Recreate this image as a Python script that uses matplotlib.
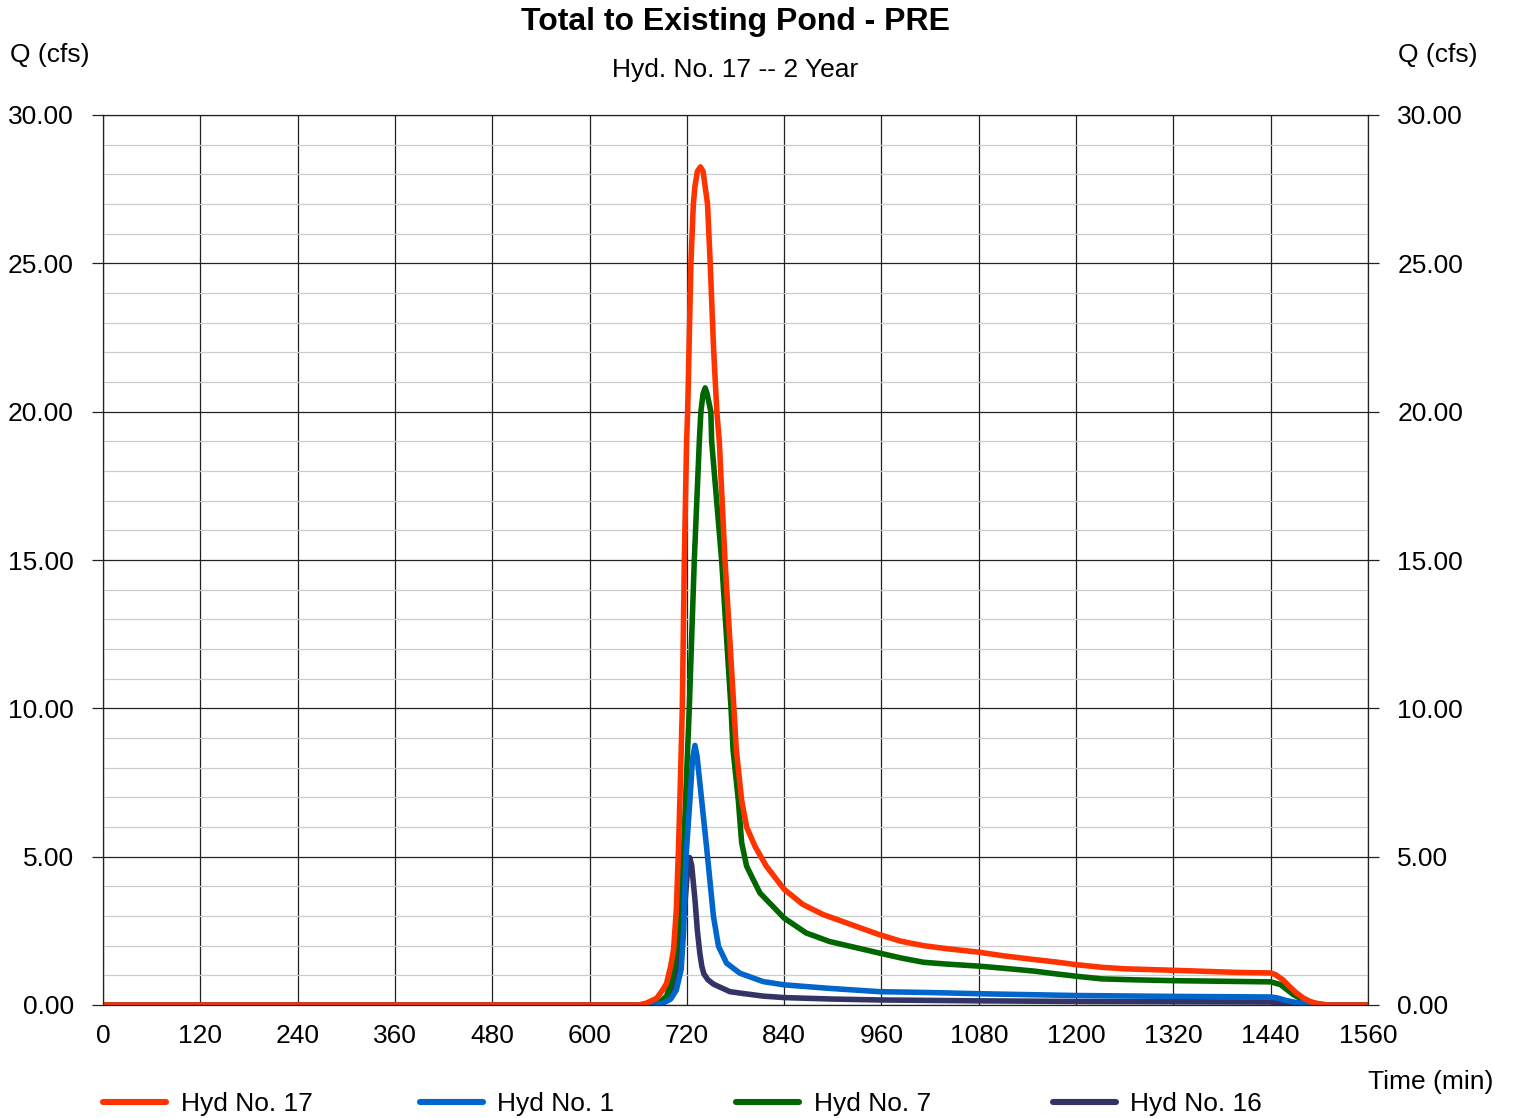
import numpy as np
import matplotlib
matplotlib.use('Agg')
import matplotlib.pyplot as plt
from matplotlib.ticker import MultipleLocator, FormatStrFormatter

plt.rcParams['font.family'] = ['Liberation Sans', 'DejaVu Sans']

# Hyd No. 17 (total)
t17 = [0, 660, 670, 683, 690, 695, 700, 703.6, 707, 709.7, 712, 714.4, 716.9, 719.7, 721, 723,
       725, 728, 730, 733, 736.7, 740, 743, 745.5, 748.8, 753, 757, 760, 767, 773, 778, 781,
       787.6, 793.7, 804, 818, 840, 863, 888, 916.6, 957.5, 984, 1012, 1040, 1080, 1110, 1149,
       1175, 1200, 1232, 1260, 1320, 1397, 1440, 1446, 1455, 1463, 1472, 1480, 1490, 1500,
       1510, 1560]
q17 = [0, 0, 0.06, 0.23, 0.5, 0.73, 1.3, 1.86, 3.2, 5.25, 7.5, 10.0, 15.0, 19.0, 20.0, 22.5,
       25.0, 27.0, 27.6, 28.1, 28.25, 28.1, 27.5, 27.0, 25.0, 22.1, 20.0, 19.0, 15.0, 12.3,
       10.0, 8.6, 6.9, 6.0, 5.35, 4.68, 3.9, 3.39, 3.05, 2.77, 2.37, 2.15, 2.0, 1.9, 1.78,
       1.66, 1.53, 1.45, 1.36, 1.27, 1.22, 1.17, 1.10, 1.08, 1.02, 0.85, 0.63, 0.4, 0.24, 0.1,
       0.03, 0, 0]

# Hyd No. 1
t1 = [0, 660, 690, 700, 707, 713, 716, 719, 724, 727, 730, 732.5, 736, 744.6, 752.8, 759,
      769, 785.5, 814, 840, 896, 957.5, 1020, 1080, 1140, 1200, 1320, 1440, 1448, 1458,
      1470, 1485, 1500, 1560]
q1 = [0, 0, 0.05, 0.2, 0.5, 1.2, 2.5, 5.0, 7.0, 8.3, 8.75, 8.4, 7.5, 5.25, 2.99, 1.98,
      1.41, 1.07, 0.79, 0.68, 0.56, 0.45, 0.42, 0.38, 0.35, 0.32, 0.29, 0.27, 0.24, 0.16,
      0.09, 0.04, 0, 0]

# Hyd No. 7
t7 = [0, 665, 685, 695, 700, 705, 710, 716, 723, 729.2, 735.4, 737.3, 740, 742.6, 745,
      749.6, 750.6, 762.9, 774.5, 777, 783.5, 787.6, 793.7, 810, 840, 867, 896, 957.5, 985,
      1012, 1040, 1080, 1110, 1149, 1175, 1200, 1232, 1270, 1320, 1380, 1440, 1452, 1460,
      1468, 1480, 1496, 1510, 1560]
q7 = [0, 0, 0.05, 0.3, 0.7, 1.4, 2.8, 5.25, 10.0, 15.0, 19.0, 20.0, 20.6, 20.8, 20.6,
      20.0, 19.0, 15.0, 10.0, 8.6, 6.9, 5.47, 4.68, 3.78, 2.93, 2.43, 2.14, 1.75, 1.58,
      1.44, 1.38, 1.31, 1.24, 1.14, 1.05, 0.97, 0.88, 0.85, 0.82, 0.80, 0.78, 0.69, 0.52,
      0.35, 0.17, 0.05, 0, 0]

# Hyd No. 16
t16 = [0, 662, 687, 699.4, 705.6, 711.8, 718, 721, 723.5, 726, 730, 733, 736, 738.5, 741,
       746, 753, 773, 786, 814, 840, 900, 957.5, 1080, 1200, 1440, 1450, 1458, 1470, 1560]
q16 = [0, 0, 0.08, 0.28, 0.73, 1.86, 3.55, 4.6, 4.97, 4.7, 3.55, 2.5, 1.75, 1.3, 1.05,
       0.85, 0.7, 0.45, 0.40, 0.30, 0.25, 0.2, 0.17, 0.14, 0.12, 0.10, 0.06, 0.02, 0, 0]

W, H = 1514, 1118
fig = plt.figure(figsize=(W / 100, H / 100), dpi=100)
ax = fig.add_axes([103 / W, 1 - 1005 / H, (1368 - 103) / W, (1005 - 115) / H])

lw = 4.0
style = dict(lw=lw, solid_joinstyle='round', solid_capstyle='round')
l16, = ax.plot(t16, q16, color='#333366', **style)
l7, = ax.plot(t7, q7, color='#006600', **style)
l1, = ax.plot(t1, q1, color='#0066cc', **style)
l17, = ax.plot(t17, q17, color='#ff3300', **style)

ax.set_xlim(0, 1560)
ax.set_ylim(0, 30)
ax.xaxis.set_major_locator(MultipleLocator(120))
ax.yaxis.set_major_locator(MultipleLocator(5))
ax.yaxis.set_minor_locator(MultipleLocator(1))
ax.yaxis.set_major_formatter(FormatStrFormatter('%.2f'))

ax.grid(True, which='major', axis='both', color='#222222', lw=0.9)
ax.grid(True, which='minor', axis='y', color='#cccccc', lw=0.9)
ax.set_axisbelow(True)
for s in ax.spines.values():
    s.set_color('#222222')
    s.set_linewidth(0.9)

fs = 19
ax.tick_params(axis='y', which='major', left=True, right=True, labelleft=True, labelright=True,
               length=8, width=0.9, color='#222222', pad=13, labelsize=fs)
ax.tick_params(axis='y', which='minor', left=False, right=False)
ax.tick_params(axis='x', which='major', length=0, pad=14, labelsize=fs)

fig.text(735.5 / W, 1 - 22 / H, 'Total to Existing Pond - PRE', ha='center', va='center',
         fontsize=23, fontweight='bold')
fig.text(735.5 / W, 1 - 70 / H, 'Hyd. No. 17 -- 2 Year', ha='center', va='center', fontsize=fs)
fig.text(10 / W, 1 - 55 / H, 'Q (cfs)', ha='left', va='center', fontsize=fs)
fig.text(1398 / W, 1 - 55 / H, 'Q (cfs)', ha='left', va='center', fontsize=fs)
fig.text(1368 / W, 1 - 1082 / H, 'Time (min)', ha='left', va='center', fontsize=fs)

# one legend per entry, evenly spaced like the original
entries = [(l17, 'Hyd No. 17'), (l1, 'Hyd No. 1'), (l7, 'Hyd No. 7'), (l16, 'Hyd No. 16')]
for i, (h, lab) in enumerate(entries):
    leg = fig.legend([h], [lab], loc='center left',
                     bbox_to_anchor=((103 + i * 316.5) / W, 1 - 1104 / H),
                     frameon=False, fontsize=fs, borderpad=0, borderaxespad=0,
                     handlelength=2.4, handletextpad=0.55)
    leg.get_lines()[0].set_linewidth(4.4)

fig.savefig('out.png', dpi=100)
